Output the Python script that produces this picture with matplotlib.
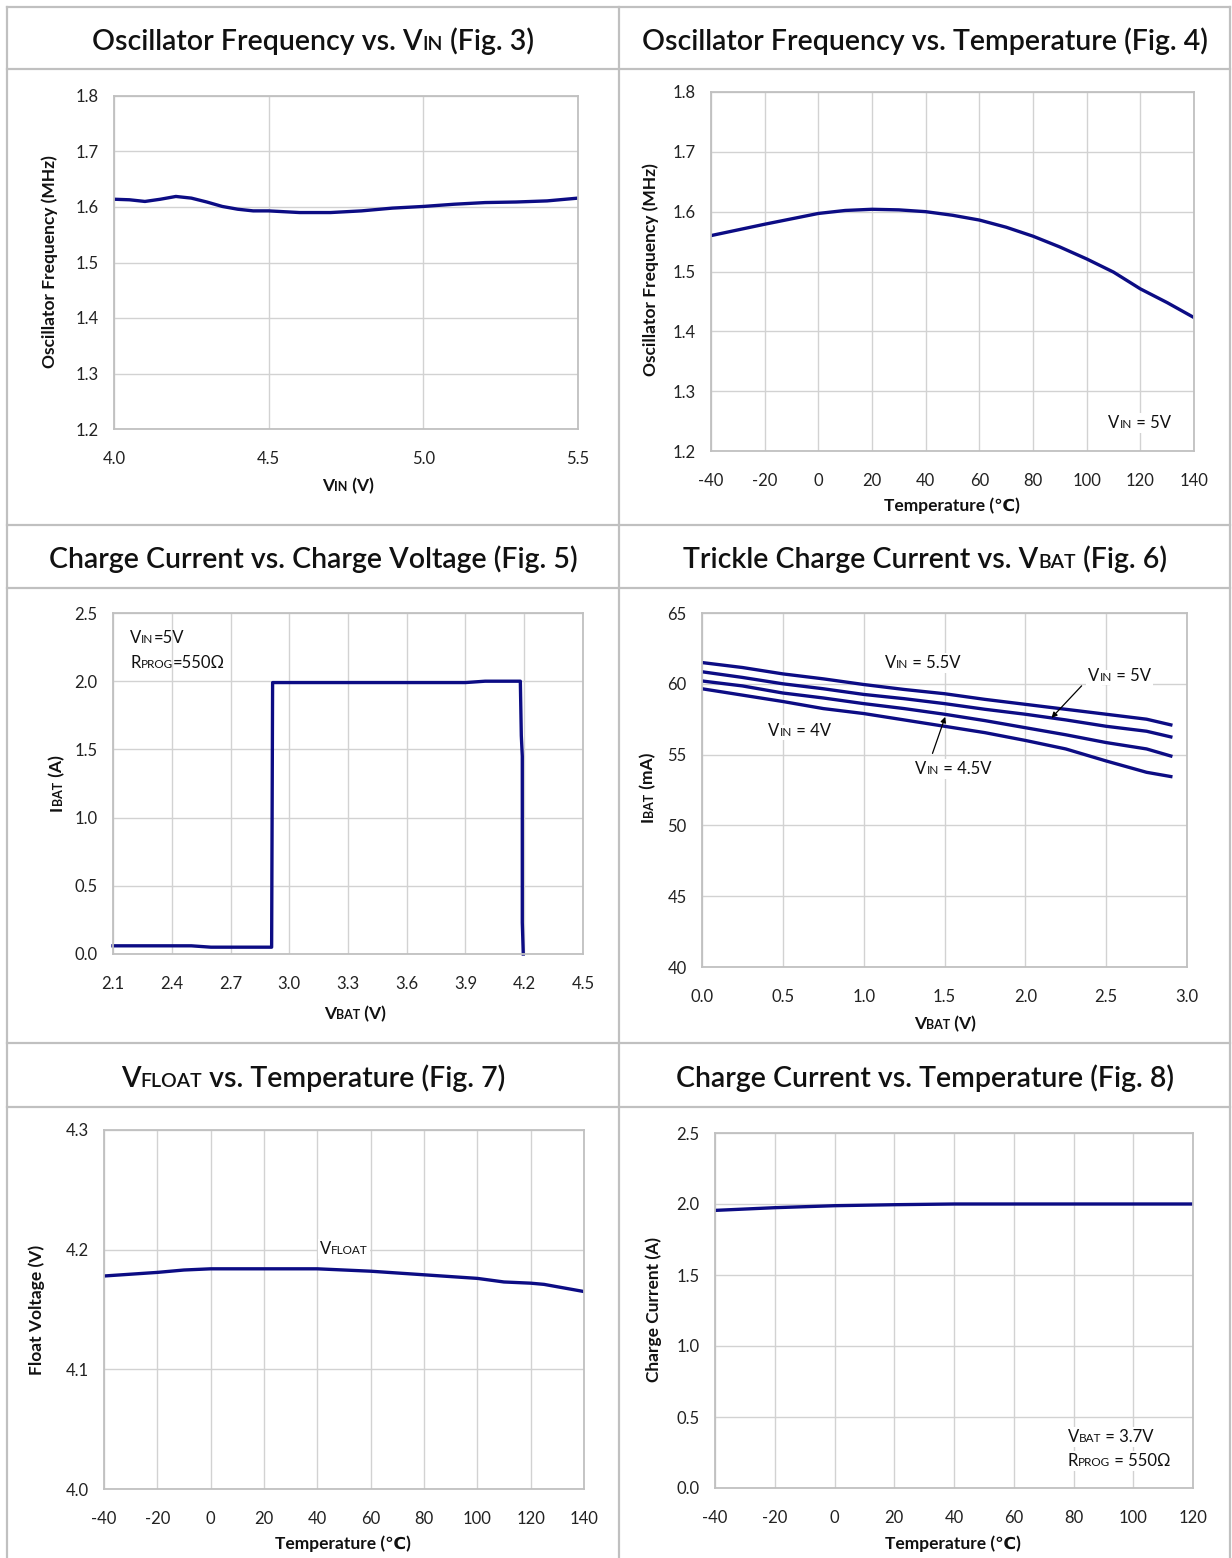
import matplotlib
matplotlib.use("Agg")
import matplotlib.pyplot as plt
import matplotlib.transforms as mtransforms
from matplotlib.lines import Line2D

plt.rcParams['font.family'] = ['Lato', 'DejaVu Sans']

W, H = 1232, 1558
NAVY = '#0c0c84'
GRID = '#d2d2d2'
EDGE = '#c0c0c0'

# Fig. 3  oscillator frequency vs VIN
vin3 = [4.0, 4.05, 4.1, 4.15, 4.2, 4.25, 4.3, 4.35, 4.4, 4.45, 4.5,
        4.6, 4.7, 4.8, 4.9, 5.0, 5.1, 5.2, 5.3, 5.4, 5.5]
freq3 = [1.614, 1.613, 1.610, 1.614, 1.619, 1.616, 1.609, 1.601, 1.596, 1.593, 1.593,
         1.590, 1.590, 1.593, 1.598, 1.601, 1.605, 1.608, 1.609, 1.611, 1.616]

# Fig. 4  oscillator frequency vs temperature
temp4 = [-40, -20, 0, 10, 20, 30, 40, 50, 60, 70, 80, 90, 100, 110, 120, 130, 140]
freq4 = [1.560, 1.579, 1.597, 1.602, 1.604, 1.603, 1.600, 1.594, 1.586, 1.574, 1.559,
         1.541, 1.521, 1.499, 1.471, 1.448, 1.423]

# Fig. 5  charge current vs charge voltage
vbat5 = [2.1, 2.2, 2.3, 2.4, 2.5, 2.6, 2.7, 2.8, 2.91, 2.915, 3.0, 3.3, 3.6, 3.9,
         4.0, 4.1, 4.18, 4.185, 4.19, 4.19, 4.195]
ibat5 = [0.06, 0.06, 0.06, 0.06, 0.06, 0.05, 0.05, 0.05, 0.05, 1.99, 1.99, 1.99, 1.99, 1.99,
         2.0, 2.0, 2.0, 1.6, 1.45, 0.23, 0.0]

# Fig. 6  trickle charge current vs VBAT
vbat6 = [0.0, 0.25, 0.5, 0.75, 1.0, 1.25, 1.5, 1.75, 2.0, 2.25, 2.5, 2.75, 2.9]
ibat6_55 = [61.5, 61.15, 60.7, 60.35, 59.95, 59.6, 59.3, 58.9, 58.55, 58.2, 57.85, 57.5, 57.1]
ibat6_50 = [60.85, 60.45, 60.0, 59.65, 59.25, 58.95, 58.6, 58.2, 57.85, 57.45, 57.0, 56.65, 56.25]
ibat6_45 = [60.2, 59.85, 59.35, 59.0, 58.6, 58.25, 57.85, 57.4, 56.9, 56.4, 55.85, 55.4, 54.9]
ibat6_40 = [59.65, 59.2, 58.75, 58.25, 57.9, 57.45, 57.0, 56.55, 56.0, 55.4, 54.55, 53.75, 53.45]

# Fig. 7  float voltage vs temperature
temp7 = [-40, -20, -10, 0, 20, 40, 60, 80, 100, 110, 120, 125, 130, 140]
vfloat7 = [4.178, 4.181, 4.183, 4.184, 4.184, 4.184, 4.182, 4.179, 4.176, 4.173, 4.172,
           4.171, 4.169, 4.165]

# Fig. 8  charge current vs temperature
temp8 = [-40, -20, 0, 20, 40, 60, 80, 100, 120]
ichg8 = [1.955, 1.974, 1.988, 1.995, 2.0, 2.0, 2.0, 2.0, 2.0]

fig = plt.figure(figsize=(W / 100, H / 100), dpi=100)
ID = mtransforms.IdentityTransform()

# table frame
def hline(y, x0=7, x1=1230):
    fig.add_artist(Line2D([x0 / W, x1 / W], [1 - y / H, 1 - y / H], color=EDGE, lw=1.6))

def vline(x, y0=7, y1=H):
    fig.add_artist(Line2D([x / W, x / W], [1 - y0 / H, 1 - y1 / H], color=EDGE, lw=1.6))

for y in [7, 69, 525, 588, 1043, 1107]:
    hline(y)
for x in [7, 619, 1230]:
    vline(x)


def adv(s, size, weight):
    r = fig.canvas.get_renderer()
    t = fig.text(0, 0, '|' + s + '|', fontsize=size, fontweight=weight)
    w1 = t.get_window_extent(r).width
    t.set_text('||')
    w0 = t.get_window_extent(r).width
    t.remove()
    return w1 - w0


def rich(x, y, parts, weight='normal', rot=0, ha='center', bg=False):
    # x, y in pixels from the top-left corner; y is the baseline
    ws = [adv(s, size, weight) for s, size in parts]
    start = {'left': 0, 'center': -sum(ws) / 2, 'right': -sum(ws)}[ha]
    passes = [True, False] if bg else [False]
    for with_box in passes:
        pos = start
        for (s, size), w in zip(parts, ws):
            if rot:
                px, py = x, H - y + pos
            else:
                px, py = x + pos, H - y
            kw = dict(rotation=rot, rotation_mode='anchor', ha='left', va='baseline',
                      transform=ID, fontsize=size, fontweight=weight)
            if with_box:
                fig.text(px, py, s, color=(0, 0, 0, 0),
                         bbox=dict(fc='white', ec='none', pad=1.5), **kw)
            else:
                fig.text(px, py, s, color='#111111', **kw)
            pos += w


def to_px(ax, x, y):
    dx, dy = ax.transData.transform((x, y))
    return dx, H - dy


def make_axes(box, xlim, xticks, xfmt, ylim, yticks, yfmt):
    l, t, r, b = box
    ax = fig.add_axes([l / W, 1 - b / H, (r - l) / W, (b - t) / H])
    ax.set_xlim(xlim)
    ax.set_ylim(ylim)
    ax.set_xticks(xticks)
    ax.set_yticks(yticks)
    ax.set_xticklabels([xfmt.format(v) for v in xticks])
    ax.set_yticklabels([yfmt.format(v) for v in yticks])
    ax.grid(True, color=GRID, lw=1)
    ax.set_axisbelow(True)
    ax.tick_params(length=0, labelsize=12, colors='#222222')
    ax.tick_params(axis='x', pad=16)
    ax.tick_params(axis='y', pad=11)
    for s in ax.spines.values():
        s.set_color(EDGE)
        s.set_linewidth(1.3)
    return ax


T, TS = 20.5, 14   # title sizes
L, LS = 12.5, 9    # axis label sizes
A, AS = 12, 8.5    # annotation sizes
TW = 'semibold'

# titles
rich(313, 50, [("Oscillator Frequency vs. V", T), ("IN", TS), (" (Fig. 3)", T)], weight=TW)
rich(925, 50, [("Oscillator Frequency vs. Temperature (Fig. 4)", T)], weight=TW)
rich(313, 568, [("Charge Current vs. Charge Voltage (Fig. 5)", T)], weight=TW)
rich(925, 568, [("Trickle Charge Current vs. V", T), ("BAT", TS), (" (Fig. 6)", T)], weight=TW)
rich(313, 1087, [("V", T), ("FLOAT", TS), (" vs. Temperature (Fig. 7)", T)], weight=TW)
rich(925, 1087, [("Charge Current vs. Temperature (Fig. 8)", T)], weight=TW)

temps = [-40, -20, 0, 20, 40, 60, 80, 100, 120, 140]

# Fig. 3
ax3 = make_axes((114, 96, 578, 429), (4.0, 5.5), [4.0, 4.5, 5.0, 5.5], '{:.1f}',
                (1.2, 1.8), [1.2, 1.3, 1.4, 1.5, 1.6, 1.7, 1.8], '{:.1f}')
ax3.plot(vin3, freq3, color=NAVY, lw=2.4)
rich(55, 262, [("Oscillator Frequency (MHz)", L)], weight='bold', rot=90)
rich(348, 491, [("V", L), ("IN", LS), (" (V)", L)], weight='bold')

# Fig. 4
ax4 = make_axes((711, 92, 1194, 451), (-40, 140), temps, '{:d}',
                (1.2, 1.8), [1.2, 1.3, 1.4, 1.5, 1.6, 1.7, 1.8], '{:.1f}')
ax4.plot(temp4, freq4, color=NAVY, lw=2.4)
rich(656, 270, [("Oscillator Frequency (MHz)", L)], weight='bold', rot=90)
rich(952, 511, [("Temperature (℃)", L)], weight='bold')
x, y = to_px(ax4, 108, 1.238)
rich(x, y, [("V", A), ("IN", AS), (" = 5V", A)], ha='left', bg=True)

# Fig. 5
ax5 = make_axes((113, 613, 583, 954), (2.1, 4.5),
                [2.1, 2.4, 2.7, 3.0, 3.3, 3.6, 3.9, 4.2, 4.5], '{:.1f}',
                (0.0, 2.5), [0.0, 0.5, 1.0, 1.5, 2.0, 2.5], '{:.1f}')
ax5.plot(vbat5, ibat5, color=NAVY, lw=2.4, clip_on=False)
rich(62, 783, [("I", L), ("BAT", LS), (" (A)", L)], weight='bold', rot=90)
rich(355, 1019, [("V", L), ("BAT", LS), (" (V)", L)], weight='bold')
x, y = to_px(ax5, 2.187, 2.28)
rich(x, y, [("V", A), ("IN", AS), ("=5V", A)], ha='left')
x, y = to_px(ax5, 2.187, 2.10)
rich(x, y, [("R", A), ("PROG", AS), ("=550Ω", A)], ha='left')

# Fig. 6
ax6 = make_axes((702, 613, 1187, 967), (0.0, 3.0),
                [0.0, 0.5, 1.0, 1.5, 2.0, 2.5, 3.0], '{:.1f}',
                (40, 65), [40, 45, 50, 55, 60, 65], '{:d}')
for series in [ibat6_55, ibat6_50, ibat6_45, ibat6_40]:
    ax6.plot(vbat6, series, color=NAVY, lw=2.4)
ax6.annotate('', xy=(2.15, 57.45), xytext=(2.36, 60.0),
             arrowprops=dict(arrowstyle='-|>', color='black', lw=0.9, mutation_scale=8))
ax6.annotate('', xy=(1.51, 57.85), xytext=(1.42, 54.9),
             arrowprops=dict(arrowstyle='-|>', color='black', lw=0.9, mutation_scale=8))
rich(653, 787, [("I", L), ("BAT", LS), (" (mA)", L)], weight='bold', rot=90)
rich(945, 1029, [("V", L), ("BAT", LS), (" (V)", L)], weight='bold')
for lx, ly, txt in [(1.13, 61.1, " = 5.5V"), (2.39, 60.2, " = 5V"),
                    (0.41, 56.3, " = 4V"), (1.32, 53.6, " = 4.5V")]:
    x, y = to_px(ax6, lx, ly)
    rich(x, y, [("V", A), ("IN", AS), (txt, A)], ha='left', bg=True)

# Fig. 7
ax7 = make_axes((104, 1130, 584, 1489), (-40, 140), temps, '{:d}',
                (4.0, 4.3), [4.0, 4.1, 4.2, 4.3], '{:.1f}')
ax7.plot(temp7, vfloat7, color=NAVY, lw=2.4)
rich(42, 1310, [("Float Voltage (V)", L)], weight='bold', rot=90)
rich(343, 1549, [("Temperature (℃)", L)], weight='bold')
x, y = to_px(ax7, 50, 4.196)
rich(x, y, [("V", A), ("FLOAT", AS)], bg=True)

# Fig. 8
ax8 = make_axes((715, 1133, 1193, 1488), (-40, 120), temps[:-1], '{:d}',
                (0.0, 2.5), [0.0, 0.5, 1.0, 1.5, 2.0, 2.5], '{:.1f}')
ax8.plot(temp8, ichg8, color=NAVY, lw=2.4)
rich(659, 1310, [("Charge Current (A)", L)], weight='bold', rot=90)
rich(953, 1549, [("Temperature (℃)", L)], weight='bold')
x, y = to_px(ax8, 78, 0.324)
rich(x, y, [("V", A), ("BAT", AS), (" = 3.7V", A)], ha='left', bg=True)
x, y = to_px(ax8, 78, 0.155)
rich(x, y, [("R", A), ("PROG", AS), (" = 550Ω", A)], ha='left', bg=True)

fig.savefig("out.png", dpi=100)
